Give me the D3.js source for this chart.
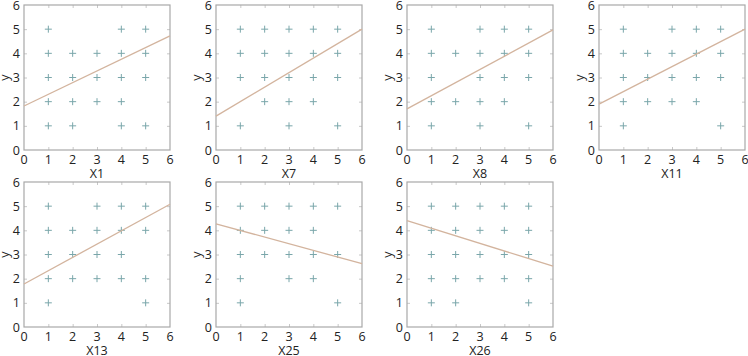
<!DOCTYPE html>
<html>
<head>
<meta charset="utf-8">
<script src="https://cdn.jsdelivr.net/npm/d3@7"></script>
<style>
  body { margin: 0; background: #fff; }
  svg text { font-family: "Open Sans", "DejaVu Sans", sans-serif; fill: #222; }
</style>
</head>
<body>
<div id="chart"></div>
<script>
// one entry per panel: x label, points as [x, [y...]] columns, fit line ends at x=0 and x=6
var panelNames = ["X1", "X7", "X8", "X11", "X13", "X25", "X26"];

var pointsX1 = [[1, [5, 4, 3, 2, 1]], [2, [4, 3, 2, 1]], [3, [4, 3, 2]], [4, [5, 4, 3, 2, 1]], [5, [5, 4, 3, 1]]];
var pointsX7 = [[1, [5, 4, 3, 1]], [2, [5, 4, 3, 2]], [3, [5, 4, 3, 2, 1]], [4, [5, 4, 3, 2]], [5, [5, 4, 3, 1]]];
var pointsX8 = [[1, [5, 4, 3, 2, 1]], [2, [4, 2]], [3, [5, 4, 3, 2, 1]], [4, [5, 4, 3, 2]], [5, [5, 4, 3, 1]]];
var pointsX11 = [[1, [5, 4, 3, 2, 1]], [2, [4, 3, 2]], [3, [5, 4, 3, 2]], [4, [5, 4, 3, 2]], [5, [5, 4, 3, 1]]];
var pointsX13 = [[1, [5, 4, 3, 2, 1]], [2, [4, 3, 2]], [3, [5, 4, 3, 2]], [4, [5, 4, 3, 2]], [5, [5, 4, 2, 1]]];
var pointsX25 = [[1, [5, 4, 3, 2, 1]], [2, [5, 4, 3]], [3, [5, 4, 3, 2]], [4, [5, 4, 3, 2]], [5, [5, 3, 1]]];
var pointsX26 = [[1, [5, 4, 3, 2, 1]], [2, [5, 4, 3, 2, 1]], [3, [5, 4, 3, 2]], [4, [5, 4, 3, 2]], [5, [5, 4, 3, 2, 1]]];

var fitStart = [1.82, 1.40, 1.70, 1.90, 1.78, 4.27, 4.40];
var fitEnd = [4.72, 5.00, 4.97, 5.00, 5.08, 2.62, 2.52];

var tickValues = [0, 1, 2, 3, 4, 5, 6];

var allPoints = [pointsX1, pointsX7, pointsX8, pointsX11, pointsX13, pointsX25, pointsX26];

var W = 748, H = 356;
var pw = 146, ph = 145;
var colLeft = [24, 216, 407, 599];
var rowTop = [5, 182];

var svg = d3.select("#chart").append("svg")
  .attr("width", W)
  .attr("height", H);

var x = d3.scaleLinear().domain([0, 6]).range([0, pw]);
var y = d3.scaleLinear().domain([0, 6]).range([ph, 0]);

panelNames.forEach(function(name, i) {
  var g = svg.append("g")
    .attr("transform", "translate(" + colLeft[i % 4] + "," + rowTop[Math.floor(i / 4)] + ")");

  // inner tick marks on all four sides
  var tickLen = 3;
  [["axisBottom", 0, ph, x], ["axisTop", 0, 0, x], ["axisLeft", 0, 0, y], ["axisRight", pw, 0, y]].forEach(function(a) {
    g.append("g")
      .attr("transform", "translate(" + a[1] + "," + a[2] + ")")
      .call(d3[a[0]](a[3]).tickValues(tickValues.slice(1, 6)).tickSize(-tickLen).tickFormat(""))
      .call(function(s) {
        s.select(".domain").remove();
        s.selectAll("line").attr("stroke", "#c8c8c8");
      });
  });

  g.append("rect")
    .attr("width", pw).attr("height", ph)
    .attr("fill", "none").attr("stroke", "#a8a8a8").attr("stroke-width", 1.2);

  // tick labels
  g.selectAll(".xl").data(tickValues).enter().append("text")
    .attr("x", function(d) { return x(d); })
    .attr("y", ph + 14)
    .attr("text-anchor", "middle")
    .style("font-size", "12.5px")
    .text(function(d) { return d; });

  g.selectAll(".yl").data(tickValues).enter().append("text")
    .attr("x", -4)
    .attr("y", function(d) { return y(d) + 4.5; })
    .attr("text-anchor", "end")
    .style("font-size", "12.5px")
    .text(function(d) { return d; });

  g.append("text")
    .attr("x", pw / 2)
    .attr("y", ph + 28)
    .attr("text-anchor", "middle")
    .style("font-size", "12.5px")
    .text(name);

  g.append("text")
    .attr("transform", "translate(-15," + (ph / 2) + ") rotate(-90)")
    .attr("text-anchor", "middle")
    .style("font-size", "12.5px")
    .text("y");

  // scatter as "+" markers
  var pts = [];
  allPoints[i].forEach(function(col) {
    col[1].forEach(function(v) { pts.push([col[0], v]); });
  });
  g.selectAll(".pt").data(pts).enter().append("path")
    .attr("d", function(d) {
      var cx = x(d[0]), cy = y(d[1]), r = 3.5;
      return "M" + (cx - r) + "," + cy + "H" + (cx + r) + "M" + cx + "," + (cy - r) + "V" + (cy + r);
    })
    .attr("stroke", "#7aa6aa")
    .attr("stroke-width", 1);

  g.append("line")
    .attr("x1", x(0)).attr("y1", y(fitStart[i]))
    .attr("x2", x(6)).attr("y2", y(fitEnd[i]))
    .attr("stroke", "#d3b49e")
    .attr("stroke-width", 1.3);
});
</script>
</body>
</html>
